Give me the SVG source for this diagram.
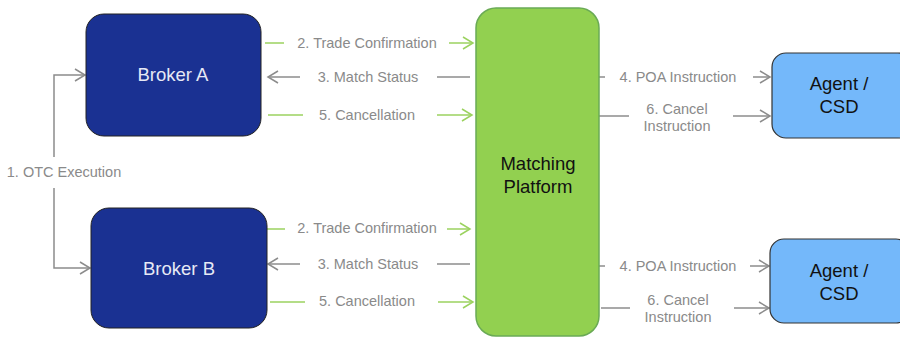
<svg xmlns="http://www.w3.org/2000/svg" width="900" height="337" viewBox="0 0 900 337">
<style>
.lbl{font-family:"Liberation Sans",Arial,sans-serif;font-size:14.5px;fill:#8a8a8a;text-anchor:middle}
.nt{font-family:"Liberation Sans",Arial,sans-serif;font-size:18.5px;text-anchor:middle}
.g{stroke:#9bd25f;stroke-width:1.5;fill:none}
.k{stroke:#8c8c8c;stroke-width:1.5;fill:none}
</style>
<defs>
<marker id="ag" markerUnits="userSpaceOnUse" markerWidth="14" markerHeight="16" refX="11" refY="7" orient="auto" viewBox="0 0 14 14">
<path d="M1,1 L11,7 L1,13" fill="none" stroke="#9bd25f" stroke-width="1.5"/>
</marker>
<marker id="ak" markerUnits="userSpaceOnUse" markerWidth="14" markerHeight="16" refX="11" refY="7" orient="auto" viewBox="0 0 14 14">
<path d="M1,1 L11,7 L1,13" fill="none" stroke="#8c8c8c" stroke-width="1.5"/>
</marker>
</defs>
<g id="connectors">
<path class="k" d="M54,157 V75 H85" marker-end="url(#ak)"/>
<path class="k" d="M54,188 V268 H90" marker-end="url(#ak)"/>
<path class="g" d="M265,43 H284"/>
<path class="g" d="M449,43 H473" marker-end="url(#ag)"/>
<path class="k" d="M300,77 H268" marker-end="url(#ak)"/>
<path class="k" d="M437,77 H470"/>
<path class="g" d="M268,115 H303"/>
<path class="g" d="M437,115 H472" marker-end="url(#ag)"/>
<path class="g" d="M267,229 H285"/>
<path class="g" d="M447,229 H470" marker-end="url(#ag)"/>
<path class="k" d="M300,264 H268" marker-end="url(#ak)"/>
<path class="k" d="M437,264 H470"/>
<path class="g" d="M270,302 H305"/>
<path class="g" d="M438,302 H473" marker-end="url(#ag)"/>
<path class="k" d="M599,77 H605"/>
<path class="k" d="M753,77 H770" marker-end="url(#ak)"/>
<path class="k" d="M599,116 H629"/>
<path class="k" d="M733,116 H770" marker-end="url(#ak)"/>
<path class="k" d="M599,266 H605"/>
<path class="k" d="M750,266 H769" marker-end="url(#ak)"/>
<path class="k" d="M601,308 H630"/>
<path class="k" d="M734,308 H769" marker-end="url(#ak)"/>
<text class="lbl" x="64" y="177">1. OTC Execution</text>
<text class="lbl" x="367" y="48">2. Trade Confirmation</text>
<text class="lbl" x="368" y="82">3. Match Status</text>
<text class="lbl" x="367" y="120">5. Cancellation</text>
<text class="lbl" x="367" y="233">2. Trade Confirmation</text>
<text class="lbl" x="368" y="269">3. Match Status</text>
<text class="lbl" x="367" y="306">5. Cancellation</text>
<text class="lbl" x="678" y="82">4. POA Instruction</text>
<text class="lbl" x="677" y="114">6. Cancel</text>
<text class="lbl" x="677" y="131">Instruction</text>
<text class="lbl" x="678" y="271">4. POA Instruction</text>
<text class="lbl" x="678" y="305">6. Cancel</text>
<text class="lbl" x="678" y="322">Instruction</text>
</g>
<g id="brokerA">
<rect x="86" y="14" width="175" height="122" rx="18" fill="#1a3192" stroke="#222"/>
<text class="nt" x="173" y="81" fill="#e6e9f5">Broker A</text>
</g>
<g id="brokerB">
<rect x="91" y="208" width="176" height="120" rx="18" fill="#1a3192" stroke="#222"/>
<text class="nt" x="179" y="275" fill="#e6e9f5">Broker B</text>
</g>
<g id="matching">
<rect x="476" y="8" width="123" height="328" rx="20" fill="#92d050" stroke="#6aaa55" stroke-width="1.5"/>
<text class="nt" x="538" y="170" fill="#111">Matching</text>
<text class="nt" x="538" y="193" fill="#111">Platform</text>
</g>
<g id="agentA">
<rect x="772" y="53" width="140" height="85" rx="14" fill="#74b8fa" stroke="#333" stroke-width="1.2"/>
<text class="nt" x="839" y="90" fill="#111">Agent /</text>
<text class="nt" x="839" y="113" fill="#111">CSD</text>
</g>
<g id="agentB">
<rect x="770" y="239" width="140" height="84" rx="14" fill="#74b8fa" stroke="#333" stroke-width="1.2"/>
<text class="nt" x="839" y="277" fill="#111">Agent /</text>
<text class="nt" x="839" y="300" fill="#111">CSD</text>
</g>
</svg>
